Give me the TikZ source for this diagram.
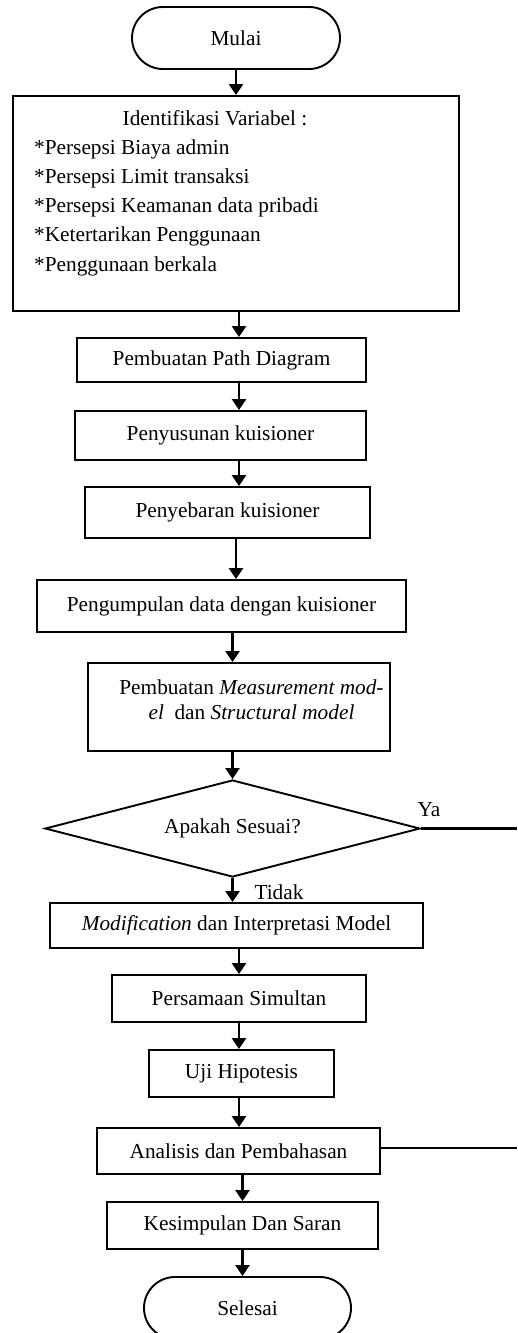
\documentclass[tikz,border=0pt]{standalone}
\usepackage{fontspec}
\setmainfont{Liberation Serif}
\usetikzlibrary{arrows.meta,shapes.geometric}

\begin{document}
\begin{tikzpicture}[
            x=1pt, y=-1pt,
            every node/.style={font=\fontsize{21.3pt}{29.5pt}\selectfont, inner sep=0pt},
            proc/.style={draw, rectangle, line width=1.9pt},
            term/.style={draw, rectangle, rounded corners=31pt, line width=1.9pt},
            decide/.style={draw, diamond, aspect=3.87, line width=1.9pt},
            flow/.style={line width=2.6pt, -{Triangle[length=11pt,width=14pt]}},
            link/.style={line width=2.4pt}
        ]
        \useasboundingbox (0,0) rectangle (517,1333);
        \coordinate (spine) at (239,0);

        % Start and variables
        \node[term, minimum width=208pt, minimum height=62pt] (mulai) at (236,38) {Mulai};
        \node[proc, minimum width=446pt, minimum height=215pt] (idvar) at (236,203.5) {};
        \node[anchor=base] (idtitle) at (215,125) {Identifikasi Variabel :};
        \node[anchor=base west] (var1) at (34,154) {*Persepsi Biaya admin};
        \node[anchor=base west] (var2) at (34,183) {*Persepsi Limit transaksi};
        \node[anchor=base west] (var3) at (34,212) {*Persepsi Keamanan data pribadi};
        \node[anchor=base west] (var4) at (34,241) {*Ketertarikan Penggunaan};
        \node[anchor=base west] (var5) at (34,271) {*Penggunaan berkala};

        % Steps
        \node[proc, minimum width=289pt, minimum height=44pt] (pathd) at (221.5,360) {Pembuatan Path Diagram};
        \node[proc, minimum width=291pt, minimum height=49pt] (susun) at (220.5,435.5) {Penyusunan kuisioner};
        \node[proc, minimum width=285pt, minimum height=51pt] (sebar) at (227.5,512.5) {Penyebaran kuisioner};
        \node[proc, minimum width=369pt, minimum height=52pt] (kumpul) at (221.5,606) {Pengumpulan data dengan kuisioner};
        \node[proc, minimum width=302pt, minimum height=88pt] (meas) at (239,707) {};
        \node[anchor=base] (meas1) at (251.5,694) {Pembuatan \textit{Measurement mod-}};
        \node[anchor=base] (meas2) at (251.5,719) {\textit{el}\ \ dan \textit{Structural model}};
        \node[decide, minimum width=375pt, minimum height=97pt] (dec) at (232.5,828.5) {Apakah Sesuai?};
        \node (ya) at (429,810) {Ya};
        \node (tidak) at (279,892) {Tidak};
        \node[proc, minimum width=373pt, minimum height=45pt] (modi) at (236.5,925.5) {\textit{Modification} dan Interpretasi Model};
        \node[proc, minimum width=254pt, minimum height=47pt] (simul) at (239,998.5) {Persamaan Simultan};
        \node[proc, minimum width=185pt, minimum height=47pt] (uji) at (241.5,1073.5) {Uji Hipotesis};
        \node[proc, minimum width=283pt, minimum height=46pt] (anal) at (238.5,1151) {Analisis dan Pembahasan};
        \node[proc, minimum width=271pt, minimum height=47pt] (simp) at (242.5,1225.5) {Kesimpulan Dan Saran};
        \node[term, minimum width=207pt, minimum height=62pt] (selesai) at (247.5,1308) {Selesai};

        \coordinate (yaend) at (517,828.5);
        \coordinate (analend) at (517,1148);

        % Arrows
        \draw[flow] (mulai) -- (idvar);
        \draw[flow] (idvar.south -| spine) -- (pathd.north -| spine);
        \draw[flow] (pathd.south -| spine) -- (susun.north -| spine);
        \draw[flow] (susun.south -| spine) -- (sebar.north -| spine);
        \draw[flow] (sebar.south -| 236,0) -- (kumpul.north -| 236,0);
        \draw[flow] (kumpul.south -| dec.north) -- (meas.north -| dec.north);
        \draw[flow] (meas.south -| dec.north) -- (dec.north);
        \draw[flow] (dec.south) -- (dec.south |- modi.north);
        \draw[flow] (modi.south -| spine) -- (simul.north -| spine);
        \draw[flow] (simul.south -| spine) -- (uji.north -| spine);
        \draw[flow] (uji.south -| spine) -- (anal.north -| spine);
        \draw[flow] (anal.south -| simp.north) -- (simp.north);
        \draw[flow] (simp.south) -- (simp.south |- selesai.north);
        \draw[link] (dec.east) -- (yaend);
        \draw[link] (anal.east |- analend) -- (analend);

        \end{tikzpicture}
\end{document}
